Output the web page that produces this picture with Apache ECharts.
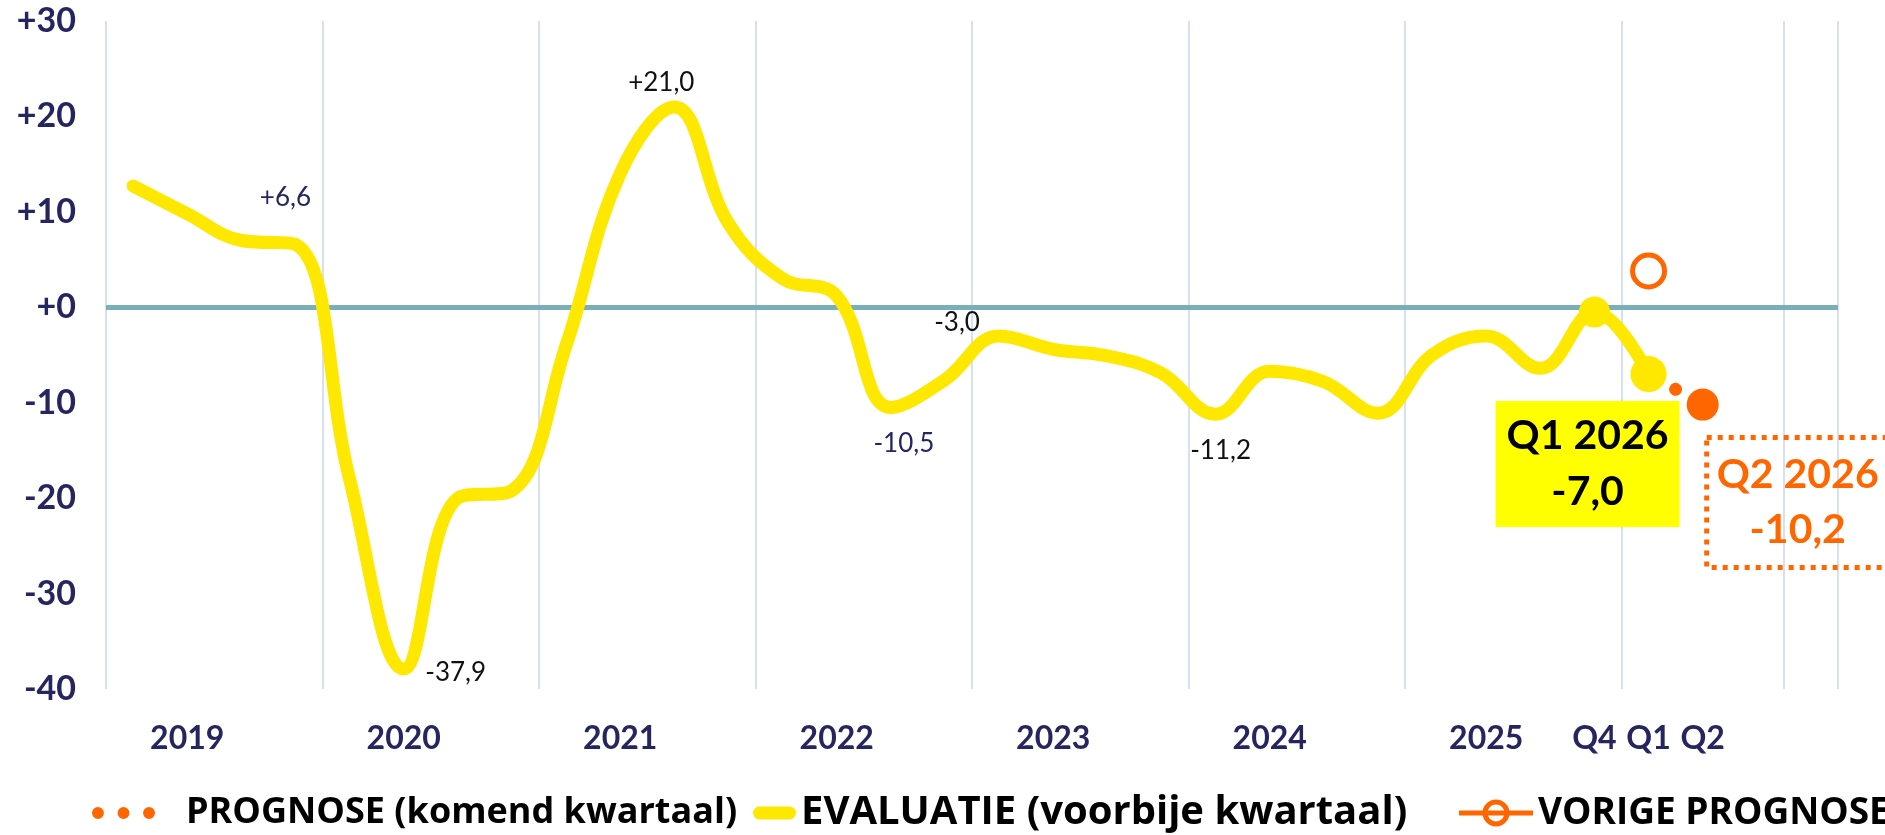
<!DOCTYPE html>
<html>
<head>
<meta charset="utf-8">
<title>Evaluatie en prognose</title>
<script src="https://cdn.jsdelivr.net/npm/echarts@6/dist/echarts.min.js"></script>
<style>
  html, body { margin: 0; padding: 0; background: #fff; }
  #chart { width: 1885px; height: 835px; }
</style>
</head>
<body>
<div id="chart"></div>
<script>
// quarters on the x axis, 2019 Q1 .. 2026 Q4
const quarters = [
  "Q1 2019", "Q2 2019", "Q3 2019", "Q4 2019",
  "Q1 2020", "Q2 2020", "Q3 2020", "Q4 2020",
  "Q1 2021", "Q2 2021", "Q3 2021", "Q4 2021",
  "Q1 2022", "Q2 2022", "Q3 2022", "Q4 2022",
  "Q1 2023", "Q2 2023", "Q3 2023", "Q4 2023",
  "Q1 2024", "Q2 2024", "Q3 2024", "Q4 2024",
  "Q1 2025", "Q2 2025", "Q3 2025", "Q4 2025",
  "Q1 2026", "Q2 2026", "Q3 2026", "Q4 2026"
];

const tickLabels = [
  "", "2019", "", "",
  "", "2020", "", "",
  "", "2021", "", "",
  "", "2022", "", "",
  "", "2023", "", "",
  "", "2024", "", "",
  "", "2025", "", "Q4",
  "Q1", "Q2", "", ""
];

// EVALUATIE (voorbije kwartaal), Q1 2019 .. Q1 2026
const evaluatie = [
  12.7, 9.8, 7.0, 6.6,
  -18.0, -37.9, -20.0, -19.2,
  -4.0, 14.0, 21.0, 8.8,
  3.0, 1.2, -10.5, -7.6,
  -3.0, -4.4, -5.1, -6.9,
  -11.2, -6.7, -7.8, -11.1,
  -5.0, -3.0, -6.4, -0.5,
  -7.0
];

// PROGNOSE (komend kwartaal): from Q1 2026 to Q2 2026
const prognose = [
  null, null, null, null, null, null, null, null,
  null, null, null, null, null, null, null, null,
  null, null, null, null, null, null, null, null,
  null, null, null, null,
  -7.0, -10.2
];

// VORIGE PROGNOSE for Q1 2026
const vorigePrognose = [
  null, null, null, null, null, null, null, null,
  null, null, null, null, null, null, null, null,
  null, null, null, null, null, null, null, null,
  null, null, null, null,
  3.8
];

const yMin = -40, yMax = 30, yStep = 10;

const NAVY = "#25255f";
const DARK = "#111111";
const YELLOW = "#ffe800";
const BOX_YELLOW = "#ffff00";
const ORANGE = "#ff6600";
const TEAL = "#78afb8";
const GRID = "#d6e0ef";

const fmt = v => (v > 0 ? "+" : "") + v.toFixed(1).replace(".", ",");

// which points get a small value label, and where
const pointLabels = {
  3: { offset: [-10, -47], color: NAVY },
  5: { offset: [52, 4], color: DARK },
  10: { offset: [-13, -24], color: DARK },
  14: { offset: [13, 36], color: NAVY },
  16: { offset: [-42, -13], color: DARK },
  20: { offset: [5, 36], color: DARK }
};
const markerSizes = { 27: 31, 28: 36 };

const evalData = evaluatie.map((v, i) => {
  let item = { value: v, symbolSize: markerSizes[i] || 0 };
  if (pointLabels[i]) {
    item.label = {
      show: true,
      position: "inside",
      offset: pointLabels[i].offset,
      formatter: p => fmt(p.value),
      fontFamily: "Lato",
      fontSize: 26,
      color: pointLabels[i].color
    };
  }
  if (i === evaluatie.length - 1) {
    item.label = {
      show: true,
      position: "inside",
      offset: [-61, 90],
      formatter: p => quarters[p.dataIndex] + "\n" + fmt(p.value),
      fontFamily: "Lato",
      fontWeight: "bold",
      fontSize: 41,
      lineHeight: 56,
      color: "#000",
      backgroundColor: BOX_YELLOW,
      padding: [7, 11]
    };
  }
  return item;
});

const progData = prognose.map((v, i) => {
  if (v === null) return null;
  let last = i === prognose.length - 1;
  let item = { value: v, symbolSize: last ? 32 : 0 };
  if (last) {
    item.label = {
      show: true,
      position: "inside",
      offset: [95, 98],
      formatter: p => quarters[p.dataIndex] + "\n" + fmt(p.value),
      fontFamily: "Lato",
      fontWeight: "bold",
      fontSize: 41,
      lineHeight: 55,
      color: ORANGE,
      borderColor: ORANGE,
      borderWidth: 5,
      borderType: [5, 6],
      padding: [10, 10]
    };
  }
  return item;
});

const legendText = {
  fontFamily: "Open Sans",
  fontWeight: "bold",
  fontSize: 37,
  lineHeight: 44,
  color: "#000"
};

let option = {
  animation: false,
  grid: {
    left: 106,
    right: 47,
    top: 21,
    bottom: 146,
    outerBoundsMode: "none"
  },
  legend: [
    {
      left: 87,
      top: 786,
      itemWidth: 63,
      itemHeight: 12,
      selectedMode: false,
      textStyle: Object.assign({}, legendText, { fontSize: 36, padding: [0, 0, 0, 26] }),
      data: [{
        name: "PROGNOSE (komend kwartaal)",
        icon: "path://M0,6 A6,6 0 1,1 12,6 A6,6 0 1,1 0,6 Z M25.7,6 A6,6 0 1,1 37.7,6 A6,6 0 1,1 25.7,6 Z M51.4,6 A6,6 0 1,1 63.4,6 A6,6 0 1,1 51.4,6 Z",
        itemStyle: { color: ORANGE, borderWidth: 0 }
      }]
    },
    {
      left: 748,
      top: 786,
      itemWidth: 43,
      itemHeight: 13,
      selectedMode: false,
      textStyle: Object.assign({}, legendText, { fontSize: 40, padding: [0, 0, 0, 0] }),
      data: [{
        name: "EVALUATIE (voorbije kwartaal)",
        icon: "path://M6.5,0 L36.5,0 A6.5,6.5 0 0,1 36.5,13 L6.5,13 A6.5,6.5 0 0,1 6.5,0 Z",
        itemStyle: { color: YELLOW, borderWidth: 0 }
      }]
    },
    {
      left: 1454,
      top: 786,
      itemWidth: 74,
      itemHeight: 27,
      selectedMode: false,
      textStyle: legendText,
      data: [{
        name: "VORIGE PROGNOSE",
        icon: "path://M0,11 L74,11 L74,16 L0,16 Z M23.5,13.5 A13.5,13.5 0 1,1 50.5,13.5 A13.5,13.5 0 1,1 23.5,13.5 Z M28.5,13.5 A8.5,8.5 0 1,0 45.5,13.5 A8.5,8.5 0 1,0 28.5,13.5 Z",
        itemStyle: { color: ORANGE, borderWidth: 0 }
      }]
    }
  ],
  xAxis: {
    type: "category",
    data: quarters,
    boundaryGap: true,
    axisLine: { show: false },
    axisTick: { show: false },
    axisLabel: {
      interval: 0,
      margin: 34,
      formatter: (val, idx) => tickLabels[idx],
      fontFamily: "Lato",
      fontWeight: "bold",
      fontSize: 32,
      color: NAVY
    },
    splitLine: {
      show: true,
      interval: 3,
      lineStyle: { color: GRID, width: 2 }
    }
  },
  yAxis: {
    type: "value",
    min: yMin,
    max: yMax,
    interval: yStep,
    axisLine: { show: false },
    axisTick: { show: false },
    splitLine: { show: false },
    axisLabel: {
      margin: 30,
      formatter: v => (v >= 0 ? "+" + v : String(v)),
      fontFamily: "Lato",
      fontWeight: "bold",
      fontSize: 34,
      color: NAVY
    }
  },
  series: [
    {
      name: "PROGNOSE (komend kwartaal)",
      type: "line",
      data: progData,
      symbol: "circle",
      showAllSymbol: true,
      itemStyle: { color: ORANGE },
      lineStyle: { color: ORANGE, width: 13, type: [0.01, 31], cap: "round" },
      silent: true
    },
    {
      name: "EVALUATIE (voorbije kwartaal)",
      type: "line",
      data: evalData,
      smooth: 0.4,
      symbol: "circle",
      showAllSymbol: true,
      itemStyle: { color: YELLOW },
      lineStyle: { color: YELLOW, width: 13, cap: "round", join: "round" },
      silent: true,
      markLine: {
        silent: true,
        z: 1,
        symbol: "none",
        label: { show: false },
        lineStyle: { color: TEAL, width: 5, type: "solid" },
        data: [{ yAxis: 0 }]
      }
    },
    {
      name: "VORIGE PROGNOSE",
      type: "line",
      data: vorigePrognose,
      symbol: "circle",
      symbolSize: 32,
      showAllSymbol: true,
      itemStyle: { color: "#ffffff", borderColor: ORANGE, borderWidth: 5 },
      lineStyle: { color: ORANGE, width: 5 },
      silent: true
    }
  ]
};

let chart = echarts.init(document.getElementById("chart"));
chart.setOption(option, true);
</script>
</body>
</html>
